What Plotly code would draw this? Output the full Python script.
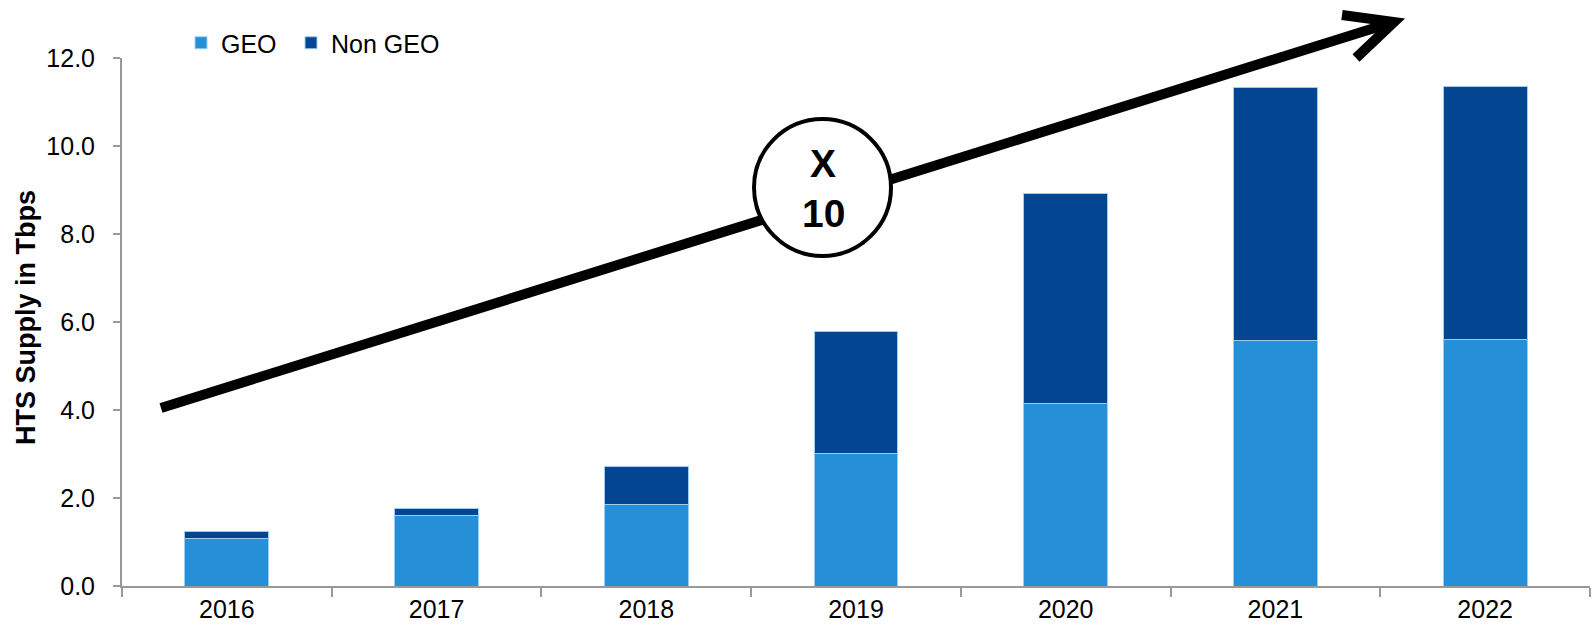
import plotly.graph_objects as go

years = ["2016", "2017", "2018", "2019", "2020", "2021", "2022"]
geo = [1.07, 1.60, 1.85, 3.02, 4.15, 5.59, 5.61]
non_geo = [0.17, 0.16, 0.87, 2.76, 4.77, 5.73, 5.74]
y_ticks = [0, 2, 4, 6, 8, 10, 12]
y_tick_labels = ["0.0", "2.0", "4.0", "6.0", "8.0", "10.0", "12.0"]

W, H = 1596, 631
ML, MR, MT, MB = 122, 6, 58, 45
PW, PH = W - ML - MR, H - MT - MB

def px(x):
    return (x - ML) / PW

def py(y):
    return (H - MB - y) / PH

FONT = "Liberation Sans, Arial, sans-serif"
GEO_C = "#2590D8"
NON_C = "#034591"

fig = go.Figure()
fig.add_trace(go.Bar(x=years, y=geo, name="GEO", legend="legend", showlegend=True,
                     marker=dict(color=GEO_C, line=dict(color="#9ccdf2", width=1)), width=0.4))
fig.add_trace(go.Bar(x=years, y=non_geo, name="Non GEO", legend="legend2", showlegend=True,
                     marker=dict(color=NON_C, line=dict(color="#9ccdf2", width=1)), width=0.4))

shapes = []
# arrow main line
shapes.append(dict(type="line", xref="paper", yref="paper", x0=px(161), y0=py(408), x1=px(1384), y1=py(25),
                   line=dict(color="black", width=10)))
# chevron head
head = "M{},{} L{},{} L{},{}".format(px(1342), py(15), px(1394), py(22), px(1356), py(58))
shapes.append(dict(type="path", xref="paper", yref="paper", path=head, line=dict(color="black", width=10)))
# circle
shapes.append(dict(type="circle", xref="paper", yref="paper", x0=px(754), x1=px(891), y0=py(256), y1=py(119),
                   fillcolor="white", line=dict(color="black", width=4)))

annotations = [
    dict(text="<b>X</b>", x=px(823), y=py(163), xref="paper", yref="paper", showarrow=False,
         font=dict(family=FONT, size=39, color="black"), xanchor="center", yanchor="middle"),
    dict(text="<b>10</b>", x=px(823), y=py(214), xref="paper", yref="paper", showarrow=False,
         font=dict(family=FONT, size=39, color="black"), xanchor="center", yanchor="middle"),
    dict(text="<b>HTS Supply in Tbps</b>", x=px(26), y=py(318), xref="paper", yref="paper", showarrow=False,
         textangle=-90, font=dict(family=FONT, size=27, color="black"), xanchor="center", yanchor="middle"),
]

legend_style = dict(orientation="h", y=py(43), xanchor="left", yanchor="middle",
                    font=dict(size=25), bgcolor="rgba(0,0,0,0)", visible=True)

fig.update_layout(
    width=W, height=H,
    margin=dict(l=ML, r=MR, t=MT, b=MB, pad=0, autoexpand=False),
    barmode="stack",
    showlegend=True,
    plot_bgcolor="white", paper_bgcolor="white",
    font=dict(family=FONT, size=25, color="black"),
    shapes=shapes,
    annotations=annotations,
    legend=dict(x=px(181), **legend_style),
    legend2=dict(x=px(291), **legend_style),
    bargap=0.6,
)
fig.update_xaxes(showline=True, linecolor="#999999", linewidth=2, ticks="outside", tickson="boundaries",
                 ticklen=9, tickcolor="#999999", tickwidth=2, showgrid=False, automargin=False,
                 tickfont=dict(size=25))
fig.update_yaxes(range=[0, 12], tickvals=y_ticks, ticktext=y_tick_labels, showline=True, linecolor="#999999",
                 linewidth=2, ticks="outside", ticklen=7, tickcolor="#999999", tickwidth=2, showgrid=False,
                 zeroline=False, automargin=False, ticklabelstandoff=13, tickfont=dict(size=25))

fig.write_html("out.html", config={"displayModeBar": False},
               post_script="document.body.style.margin='0';document.body.style.overflow='hidden';")
